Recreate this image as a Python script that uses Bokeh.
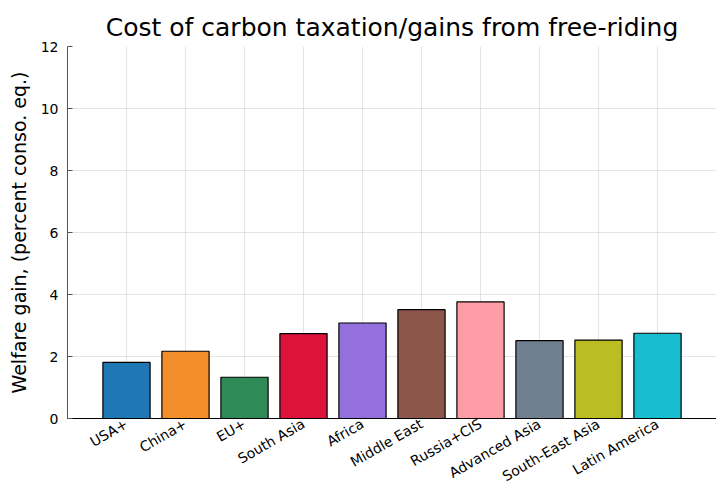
import math
from bokeh.plotting import figure
from bokeh.models import ColumnDataSource, FixedTicker, Range1d, Title
from bokeh.embed import file_html
from bokeh.resources import INLINE

regions = ["USA+", "China+", "EU+", "South Asia", "Africa", "Middle East",
           "Russia+CIS", "Advanced Asia", "South-East Asia", "Latin America"]
welfare_gain = [1.81, 2.17, 1.33, 2.74, 3.08, 3.51, 3.76, 2.51, 2.53, 2.75]
bar_colors = ["#1f77b4", "#f28e2b", "#2e8b57", "#dc143c", "#9370db",
              "#8c564b", "#ff9da7", "#708090", "#bcbd22", "#17becf"]
y_ticks = [0, 2, 4, 6, 8, 10, 12]

positions = list(range(1, len(regions) + 1))
src = ColumnDataSource(dict(x=positions, top=welfare_gain, color=bar_colors))

FONT = "DejaVu Sans"
p = figure(width=716, height=494, output_backend="svg", toolbar_location=None,
           x_range=Range1d(0, len(regions) + 1), y_range=Range1d(0, 12),
           min_border_left=67, min_border_right=0, min_border_top=46,
           min_border_bottom=70)
p.title = None
p.add_layout(Title(text="Cost of carbon taxation/gains from free-riding",
                   align="center", text_font=FONT, text_font_size="25px",
                   text_font_style="normal", text_color="#000000"), "above")

p.vbar(x="x", top="top", width=0.8, bottom=0, fill_color="color",
       line_color="#000000", line_width=1.2, source=src)

p.outline_line_color = None
p.xaxis.ticker = FixedTicker(ticks=positions)
p.xaxis.major_label_overrides = {i: r for i, r in zip(positions, regions)}
p.xaxis.major_label_orientation = math.pi / 6
p.xaxis.major_label_standoff = 4
p.yaxis.ticker = FixedTicker(ticks=y_ticks)
p.yaxis.axis_label = "Welfare gain, (percent conso. eq.)"
p.yaxis.axis_label_text_font = FONT
p.yaxis.axis_label_text_font_size = "19px"
p.yaxis.axis_label_text_font_style = "normal"
p.yaxis.axis_label_text_color = "#000000"
p.yaxis.axis_label_standoff = 8
p.yaxis.major_label_standoff = 9

for ax in (p.xaxis, p.yaxis):
    ax.major_label_text_font = FONT
    ax.major_label_text_font_size = "14px"
    ax.major_label_text_color = "#000000"
    ax.axis_line_color = "#000000"
    ax.axis_line_width = 1
    ax.major_tick_in = 5
    ax.major_tick_out = 0
    ax.minor_tick_line_color = None
p.xaxis.major_tick_line_color = None
p.yaxis.axis_line_color = "#555555"
p.yaxis.major_tick_line_color = "#555555"

p.xgrid.grid_line_color = "#000000"
p.xgrid.grid_line_alpha = 0.1
p.ygrid.grid_line_color = "#000000"
p.ygrid.grid_line_alpha = 0.1
p.xgrid.ticker = FixedTicker(ticks=positions)
p.ygrid.ticker = FixedTicker(ticks=y_ticks)

open("out.html", "w").write(file_html(p, INLINE))
